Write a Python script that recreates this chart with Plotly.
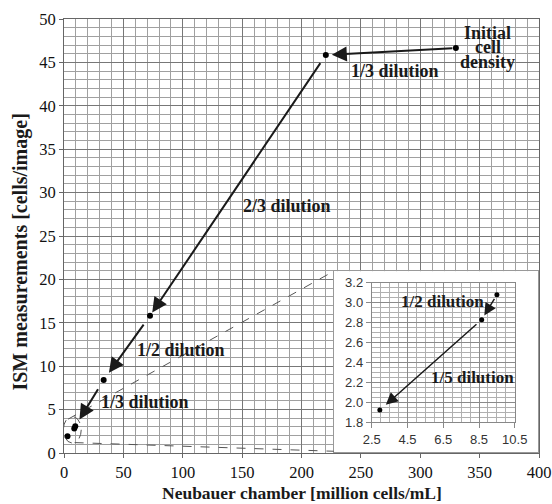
import plotly.graph_objects as go

# ---------------- data ----------------
neubauer = [330.0, 220.5, 72.4, 33.4, 9.5, 8.65, 2.95]      # million cells/mL
ism = [46.66, 45.85, 15.8, 8.4, 3.08, 2.83, 1.92]           # cells/image
inset_x = [9.5, 8.65, 2.95]
inset_y = [3.08, 2.83, 1.92]

main_labels = ["Initial", "cell", "density", "1/3 dilution", "2/3 dilution",
               "1/2 dilution", "1/3 dilution"]
inset_labels = ["1/2 dilution", "1/5 dilution"]

x_ticks = [0, 50, 100, 150, 200, 250, 300, 350, 400]
y_ticks = [0, 5, 10, 15, 20, 25, 30, 35, 40, 45, 50]
inset_xticks = [2.5, 4.5, 6.5, 8.5, 10.5]
inset_yticks = [1.8, 2.0, 2.2, 2.4, 2.6, 2.8, 3.0, 3.2]

# ---------------- layout constants ----------------
XR = [0, 400]
YR = [0, 50]
SERIF = "Liberation Serif, Times New Roman, serif"
SANS = "Liberation Sans, Arial, sans-serif"
BOX_X = [0.568, 0.998]
BOX_Y = [0.002, 0.419]
INSET_X = [0.648, 0.949]
INSET_Y = [0.0714, 0.392]

fig = go.Figure()

fig.add_trace(go.Scatter(x=neubauer, y=ism, mode="markers",
                         marker=dict(color="black", size=6),
                         xaxis="x", yaxis="y", hoverinfo="skip"))
# empty trace for the white inset box subplot
fig.add_trace(go.Scatter(x=[None], y=[None], mode="markers", xaxis="x2", yaxis="y2",
                         hoverinfo="skip"))
fig.add_trace(go.Scatter(x=inset_x, y=inset_y, mode="markers",
                         marker=dict(color="black", size=5),
                         xaxis="x3", yaxis="y3", hoverinfo="skip"))

annotations = []

# main arrows
main_standoff = [(2, 6), (8, 4), (9, 9), (9, 8)]
for i, (s0, s1) in enumerate(main_standoff):
    annotations.append(dict(
        x=neubauer[i + 1], y=ism[i + 1], ax=neubauer[i], ay=ism[i],
        xref="x", yref="y", axref="x", ayref="y", text="", showarrow=True,
        arrowhead=2, arrowsize=1.5, arrowwidth=2, arrowcolor="#1a1a1a",
        startstandoff=s0, standoff=s1))

# inset arrows
inset_standoff = [(3, 5), (5, 8)]
for i, (s0, s1) in enumerate(inset_standoff):
    annotations.append(dict(
        x=inset_x[i + 1], y=inset_y[i + 1], ax=inset_x[i], ay=inset_y[i],
        xref="x3", yref="y3", axref="x3", ayref="y3", text="", showarrow=True,
        arrowhead=2, arrowsize=1.6, arrowwidth=1.5, arrowcolor="#1a1a1a",
        startstandoff=s0, standoff=s1))

# main labels
main_label_pos = [(357, 48.4), (357, 46.75), (357, 45.05), (278.7, 44.0),
                  (187.8, 28.5), (98.5, 11.9), (68.2, 5.9)]
for txt, (lx, ly) in zip(main_labels, main_label_pos):
    annotations.append(dict(x=lx, y=ly, xref="x", yref="y", text="<b>" + txt + "</b>",
                            showarrow=False, xanchor="center", yanchor="middle",
                            font=dict(family=SERIF, size=18, color="#1a1a1a"),
                            align="center"))

inset_label_pos = [(6.47, 3.01), (8.15, 2.25)]
for txt, (lx, ly) in zip(inset_labels, inset_label_pos):
    annotations.append(dict(x=lx, y=ly, xref="x3", yref="y3", text="<b>" + txt + "</b>",
                            showarrow=False, xanchor="center", yanchor="middle",
                            font=dict(family=SERIF, size=17, color="#1a1a1a")))

# axis titles
annotations.append(dict(x=0.501, y=-0.092, xref="paper", yref="paper",
                        xanchor="center", yanchor="middle",
                        text="<b>Neubauer chamber [million cells/mL]</b>", showarrow=False,
                        font=dict(family=SERIF, size=17.5, color="#1a1a1a")))
annotations.append(dict(x=-0.0916, y=0.463, xref="paper", yref="paper", textangle=-90,
                        xanchor="center", yanchor="middle",
                        text="<b>ISM measurements [cells/image]</b>", showarrow=False,
                        font=dict(family=SERIF, size=20, color="#1a1a1a")))

# highlight ellipse around the low points
lowx = neubauer[4:]
lowy = ism[4:]
ex0, ex1 = min(lowx) - 3.5, max(lowx) + 5.0
ey0, ey1 = min(lowy) - 0.77, max(lowy) + 1.12

def px(xv):
    return (xv - XR[0]) / (XR[1] - XR[0])

def py(yv):
    return (yv - YR[0]) / (YR[1] - YR[0])

shapes = [
    dict(type="circle", xref="x", yref="y", x0=ex0, x1=ex1, y0=ey0, y1=ey1,
         line=dict(color="#555", width=1, dash="dash"), layer="above"),
    dict(type="line", xref="paper", yref="paper",
         x0=px(ex0 + 4.0), y0=py(ey1 - 0.3), x1=BOX_X[0], y1=BOX_Y[1],
         line=dict(color="#555", width=1, dash="dash"), layer="above"),
    dict(type="line", xref="paper", yref="paper",
         x0=px(ex0 + 9.5), y0=py(ey0 + 0.05), x1=BOX_X[0], y1=BOX_Y[0] + 0.002,
         line=dict(color="#555", width=1, dash="dash"), layer="above"),
]

common = dict(automargin=False, zeroline=False)

fig.update_layout(
    template="none",
    width=552, height=504,
    margin=dict(l=64, r=13, t=19, b=51, pad=0),
    paper_bgcolor="white", plot_bgcolor="white",
    font=dict(family=SERIF, color="#1a1a1a"),
    showlegend=False,
    annotations=annotations,
    shapes=shapes,
    xaxis=dict(range=XR, domain=[0, 1], tickvals=x_ticks, ticks="outside", ticklen=4,
               tickcolor="#666", showline=True, linecolor="#666", mirror=True,
               showgrid=True, gridcolor="#777777", gridwidth=1,
               minor=dict(dtick=10, showgrid=True, gridcolor="#a0a0a0", gridwidth=1),
               tickfont=dict(family=SERIF, size=16.5, color="#111"), anchor="y", **common),
    yaxis=dict(range=YR, domain=[0, 1], tickvals=y_ticks, ticks="outside", ticklen=4,
               tickcolor="#666", showline=True, linecolor="#666", mirror=True,
               showgrid=True, gridcolor="#777777", gridwidth=1,
               minor=dict(dtick=1, showgrid=True, gridcolor="#a0a0a0", gridwidth=1),
               tickfont=dict(family=SERIF, size=16.5, color="#111"), anchor="x", **common),
    xaxis2=dict(domain=BOX_X, range=[0, 1], showgrid=False,
                showticklabels=False, ticks="", showline=True, linecolor="#999", mirror=True,
                anchor="y2", fixedrange=True, **common),
    yaxis2=dict(domain=BOX_Y, range=[0, 1], showgrid=False,
                showticklabels=False, ticks="", showline=True, linecolor="#999", mirror=True,
                anchor="x2", fixedrange=True, **common),
    xaxis3=dict(domain=INSET_X, range=[2.5, 10.5], tickvals=inset_xticks,
                ticktext=[f"{v:.1f}" for v in inset_xticks],
                ticks="outside", ticklen=5, tickcolor="#888",
                showline=True, linecolor="#888", mirror=True,
                showgrid=True, gridcolor="#8a8a8a", gridwidth=1,
                minor=dict(dtick=0.5, tick0=2.5, showgrid=True, gridcolor="#b0b0b0", gridwidth=1),
                tickfont=dict(family=SANS, size=13, color="#333"), anchor="y3", **common),
    yaxis3=dict(domain=INSET_Y, range=[1.8, 3.2], tickvals=inset_yticks,
                ticktext=[f"{v:.1f}" for v in inset_yticks],
                ticks="outside", ticklen=5, tickcolor="#888",
                showline=True, linecolor="#888", mirror=True,
                showgrid=True, gridcolor="#8a8a8a", gridwidth=1,
                minor=dict(dtick=0.05, tick0=1.8, showgrid=True, gridcolor="#b0b0b0", gridwidth=1),
                tickfont=dict(family=SANS, size=13, color="#333"), anchor="x3", **common),
)

fig.write_html("out.html", config={"displayModeBar": False},
               post_script="document.body.style.margin='0px';")
